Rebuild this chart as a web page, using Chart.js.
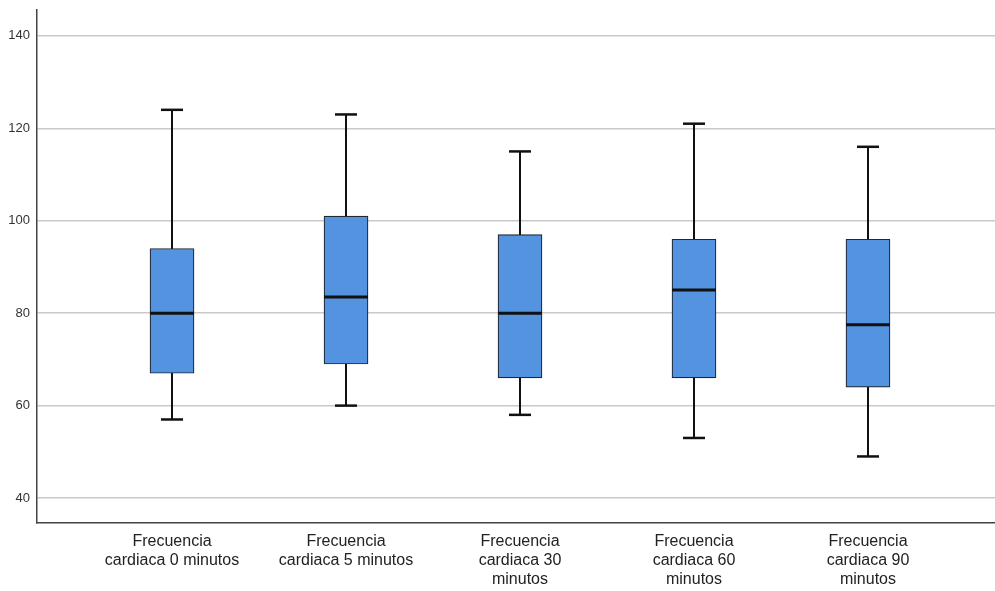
<!DOCTYPE html>
<html>
<head>
<meta charset="utf-8">
<script src="https://cdn.jsdelivr.net/npm/chart.js@4"></script>
<style>
  body { margin: 0; background: #fff; }
  #grafico { display: block; }
</style>
</head>
<body>
<canvas id="grafico" width="995" height="591"></canvas>
<script>
// categorias del eje x
const categorias = [
    ['Frecuencia', 'cardiaca 0 minutos'],
    ['Frecuencia', 'cardiaca 5 minutos'],
    ['Frecuencia', 'cardiaca 30', 'minutos'],
    ['Frecuencia', 'cardiaca 60', 'minutos'],
    ['Frecuencia', 'cardiaca 90', 'minutos']
];
const minimos = [57, 60, 58, 53, 49];
const cuartil1 = [67, 69, 66, 66, 64];
const medianas = [80, 83.5, 80, 85, 77.5];
const cuartil3 = [94, 101, 97, 96, 96];
const maximos = [124, 123, 115, 121, 116];
const ticksY = [40, 60, 80, 100, 120, 140];

const cajas = categorias.map((c, i) => ({ x: i, y: [cuartil1[i], cuartil3[i]] }));

// bigotes y medianas
const bigotes = {
    id: 'bigotes',
    beforeDatasetsDraw(chart) {
        const ctx = chart.ctx;
        const xs = chart.scales.x;
        const ys = chart.scales.y;
        ctx.save();
        ctx.strokeStyle = '#111';
        ctx.lineWidth = 2;
        for (let i = 0; i < categorias.length; i++) {
            const px = Math.round(xs.getPixelForValue(i));
            ctx.beginPath();
            ctx.moveTo(px, ys.getPixelForValue(maximos[i]));
            ctx.lineTo(px, ys.getPixelForValue(minimos[i]));
            ctx.stroke();
        }
        ctx.restore();
    },
    afterDatasetsDraw(chart) {
        const ctx = chart.ctx;
        const xs = chart.scales.x;
        const ys = chart.scales.y;
        ctx.save();
        ctx.strokeStyle = '#111';
        for (let i = 0; i < categorias.length; i++) {
            const px = Math.round(xs.getPixelForValue(i));
            ctx.lineWidth = 2.5;
            [maximos[i], minimos[i]].forEach(v => {
                const py = ys.getPixelForValue(v);
                ctx.beginPath();
                ctx.moveTo(px - 11, py);
                ctx.lineTo(px + 11, py);
                ctx.stroke();
            });
            ctx.lineWidth = 3;
            const pm = ys.getPixelForValue(medianas[i]);
            ctx.beginPath();
            ctx.moveTo(px - 22, pm);
            ctx.lineTo(px + 22, pm);
            ctx.stroke();
        }
        ctx.restore();
    }
};

let ctx = document.getElementById('grafico').getContext('2d');
var grafico = new Chart(ctx, {         //eslint-disable-line
    type: 'bar',
    data: {
        datasets: [{
            data: cajas,
            backgroundColor: '#5493e0',
            borderColor: '#1f2733',
            borderWidth: 1.2,
            borderSkipped: false,
            barThickness: 44
        }]
    },
    options: {
        responsive: false,
        animation: false,
        events: [],
        layout: { padding: { top: 10, right: 0, left: 0, bottom: 0 } },
        plugins: {
            legend: { display: false },
            tooltip: { enabled: false }
        },
        scales: {
            x: {
                type: 'linear',
                offset: false,
                min: -0.776,
                max: 4.73,
                afterBuildTicks: (s) => { s.ticks = categorias.map((c, i) => ({ value: i })); },
                afterFit: (s) => { s.height = 68; s.paddingLeft = 0; s.paddingRight = 0; },
                grid: { display: false, drawTicks: false, offset: false },
                border: { display: true, color: '#444', width: 1.5 },
                ticks: {
                    padding: 9,
                    autoSkip: false,
                    maxRotation: 0,
                    color: '#222',
                    font: { family: 'Liberation Sans, Arial, sans-serif', size: 16, lineHeight: 1.2 },
                    callback: (v) => categorias[v]
                }
            },
            y: {
                min: 34.6,
                max: 145.6,
                afterBuildTicks: (s) => { s.ticks = ticksY.map(v => ({ value: v })); },
                afterFit: (s) => { s.width = 37; s.paddingTop = 0; s.paddingBottom = 0; },
                grid: { color: '#c9c9c9', lineWidth: 1.5, drawTicks: false },
                border: { display: true, color: '#444', width: 1.5 },
                ticks: {
                    padding: 7,
                    color: '#333',
                    font: { family: 'Liberation Sans, Arial, sans-serif', size: 13 }
                }
            }
        }
    },
    plugins: [bigotes]
});
</script>
</body>
</html>
